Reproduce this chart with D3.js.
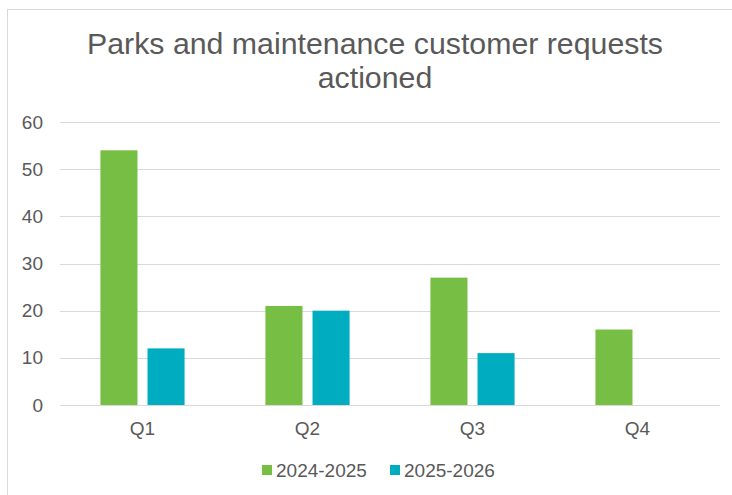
<!DOCTYPE html>
<html>
<head>
<meta charset="utf-8">
<script src="https://cdn.jsdelivr.net/npm/d3@7"></script>
<style>
  body { margin: 0; background: #fff; }
  text { font-family: "Liberation Sans", Arial, sans-serif; fill: #595959; }
</style>
</head>
<body>
<script>
const quarters = ['Q1', 'Q2', 'Q3', 'Q4']
const seriesNames = ['2024-2025', '2025-2026']
const values2024 = [54, 21, 27, 16]
const values2025 = [12, 20, 11, null]
const yTicks = [0, 10, 20, 30, 40, 50, 60]
const colors = ['#76bf44', '#00adc0']

const width = 732
const height = 495
const margin = { top: 122, right: 12, bottom: 90, left: 60 }

const svg = d3.select('body')
  .append('svg')
  .attr('width', width)
  .attr('height', height)

// chart border (cropped on the right and bottom)
svg.append('rect')
  .attr('x', 7.5)
  .attr('y', 9.5)
  .attr('width', 740)
  .attr('height', 500)
  .attr('fill', 'none')
  .attr('stroke', '#d9d9d9')

svg.append('text')
  .attr('x', 375)
  .attr('y', 54)
  .attr('text-anchor', 'middle')
  .style('font-size', '30.3px')
  .text('Parks and maintenance customer requests')

svg.append('text')
  .attr('x', 375)
  .attr('y', 88)
  .attr('text-anchor', 'middle')
  .style('font-size', '30.3px')
  .text('actioned')

const xScale = d3.scaleBand()
  .domain(quarters)
  .range([margin.left, width - margin.right])

const bw = xScale.bandwidth()
const groupScale = d3.scaleBand()
  .domain(seriesNames)
  .range([bw * 0.245, bw * 0.755])
  .paddingInner(0.213)

const yScale = d3.scaleLinear()
  .domain([0, 60])
  .range([height - margin.bottom, margin.top])

const grid = svg.append('g')
grid.selectAll('line')
  .data(yTicks)
  .join('line')
  .attr('x1', margin.left)
  .attr('x2', width - margin.right)
  .attr('y1', (d) => Math.round(yScale(d)) + 0.5)
  .attr('y2', (d) => Math.round(yScale(d)) + 0.5)
  .attr('stroke', '#d9d9d9')
  .attr('stroke-width', 1)

grid.selectAll('text')
  .data(yTicks)
  .join('text')
  .attr('x', 43)
  .attr('y', (d) => yScale(d))
  .attr('dy', '0.35em')
  .attr('text-anchor', 'end')
  .style('font-size', '19px')
  .text((d) => d)

const rows = quarters.map((q, i) => ({ q, vals: [values2024[i], values2025[i]] }))

const groups = svg.append('g')
  .selectAll('g')
  .data(rows)
  .join('g')
  .attr('transform', (d) => `translate(${xScale(d.q)},0)`)

groups.selectAll('rect')
  .data((d) => d.vals.map((v, i) => ({ name: seriesNames[i], v, i })).filter((e) => e.v != null))
  .join('rect')
  .attr('x', (d) => groupScale(d.name))
  .attr('width', groupScale.bandwidth())
  .attr('y', (d) => yScale(d.v))
  .attr('height', (d) => yScale(0) - yScale(d.v))
  .attr('fill', (d) => colors[d.i])

svg.append('g')
  .selectAll('text')
  .data(quarters)
  .join('text')
  .attr('x', (d) => xScale(d) + xScale.bandwidth() / 2)
  .attr('y', 435)
  .attr('text-anchor', 'middle')
  .style('font-size', '19px')
  .text((d) => d)

const legend = svg.append('g')
const legendX = [262, 390]
seriesNames.forEach((name, i) => {
  legend.append('rect')
    .attr('x', legendX[i])
    .attr('y', 465)
    .attr('width', 10)
    .attr('height', 10)
    .attr('fill', colors[i])
  legend.append('text')
    .attr('x', legendX[i] + 14)
    .attr('y', 477)
    .style('font-size', '19px')
    .text(name)
})
</script>
</body>
</html>
